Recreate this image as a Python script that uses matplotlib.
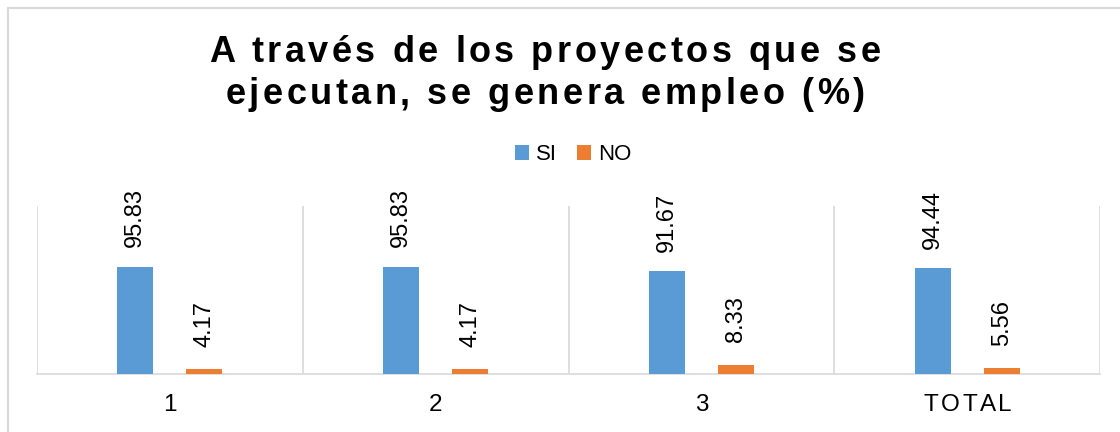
import matplotlib.pyplot as plt
from matplotlib.font_manager import FontProperties
from matplotlib.lines import Line2D
import numpy as np

categories = ["1", "2", "3", "TOTAL"]
si = [95.83, 95.83, 91.67, 94.44]
no = [4.17, 4.17, 8.33, 5.56]
title_lines = ["A través de los proyectos que se", "ejecutan, se genera empleo (%)"]

blue = "#5B9BD5"
orange = "#ED7D31"
grid = "#D9D9D9"

plt.rcParams["font.family"] = ["Liberation Sans", "DejaVu Sans"]

fig = plt.figure(figsize=(11.2, 4.32), dpi=100)
ax = fig.add_axes([37 / 1120, 58 / 432, 1063 / 1120, 168 / 432])
W, H = 1120, 432


def spaced_text(x_px, y_px, s, spacing, prop, **kw):
    # draw text with extra letter spacing, centred at x_px, baseline y_px (pixels from top)
    r = fig.canvas.get_renderer()

    def width(t):
        if not t:
            return 0.0
        return r.get_text_width_height_descent(t, prop, ismath=False)[0]

    wi = width("I")
    lefts = [width(s[:i] + "I") - wi if i else 0.0 for i in range(len(s))]
    total = width(s) + (len(s) - 1) * spacing
    x0 = x_px - total / 2
    for i, c in enumerate(s):
        if c == " ":
            continue
        fig.text((x0 + lefts[i] + i * spacing) / W, 1 - y_px / H, c,
                 fontproperties=prop, ha="left", va="baseline", **kw)


x = np.arange(len(categories))
off, bw = 0.13, 0.135
b1 = ax.bar(x - off, si, bw, color=blue, label="SI", zorder=3)
b2 = ax.bar(x + off, no, bw, color=orange, label="NO", zorder=3)
for bars, pad in ((b1, 14), (b2, 16)):
    ax.bar_label(bars, labels=[f"{v:.2f}" for v in bars.datavalues], rotation=90,
                 padding=pad, fontsize=17, color="#000000")

ax.set_xlim(-0.5, len(categories) - 0.5)
ax.set_ylim(0, 150)
ax.set_yticks([])
ax.set_xticks([])
for b in np.arange(-0.5, len(categories), 1.0):
    ax.axvline(b, color=grid, lw=1.2, zorder=1)
for s in ["top", "right", "left"]:
    ax.spines[s].set_visible(False)
ax.spines["bottom"].set_color(grid)
ax.spines["bottom"].set_linewidth(1.2)

title_prop = FontProperties(family="Liberation Sans", weight="bold", size=26)
spaced_text(545, 62, title_lines[0], 3.5, title_prop)
spaced_text(545, 104, title_lines[1], 3.5, title_prop)

tick_prop = FontProperties(family="Liberation Sans", size=17.5)
for i, c in enumerate(categories):
    xc = 37 + (i + 0.5) * 1063 / len(categories)
    spaced_text(xc, 411, c, 3.0, tick_prop)

fig.legend(handles=[b1, b2], loc="center", bbox_to_anchor=(573 / W, 1 - 155 / H),
           ncol=2, frameon=False, fontsize=16, handlelength=0.65, handleheight=0.65,
           handletextpad=0.3, columnspacing=0.9)

fig.add_artist(Line2D([7.5 / W, 1], [1 - 7.5 / H, 1 - 7.5 / H], color=grid, lw=1.5,
                      transform=fig.transFigure))
fig.add_artist(Line2D([7.5 / W, 7.5 / W], [0, 1 - 7.5 / H], color=grid, lw=1.5,
                      transform=fig.transFigure))

fig.savefig("out.png", dpi=100)
